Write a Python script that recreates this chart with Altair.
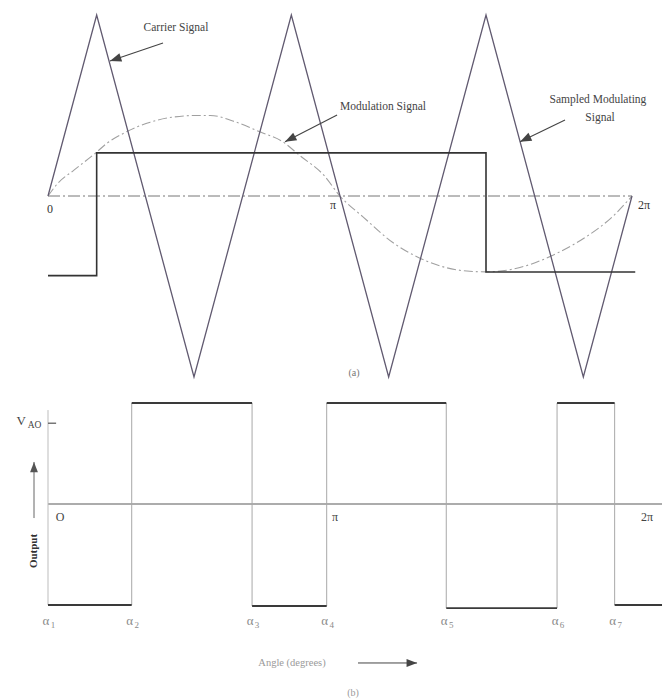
import math
import altair as alt
import pandas as pd

# ---------------- panel (a): carrier, modulating wave, sampled wave ----------------
carrier_deg = [0, 30, 90, 150, 210, 270, 330, 360]
carrier_val = [0, 1, -1, 1, -1, 1, -1, 0]

mod_deg = [0, 6, 16, 29, 36, 48, 63, 77, 92, 100, 116, 131, 145, 155, 170, 180,
           194, 213, 229, 246, 260, 270, 283, 297, 314, 332, 348, 360]
mod_val = [0.0, 0.07, 0.143, 0.235, 0.289, 0.353, 0.408, 0.436, 0.445, 0.445, 0.408,
           0.353, 0.298, 0.225, 0.115, 0.0, -0.114, -0.26, -0.342, -0.397, -0.416,
           -0.419, -0.41, -0.379, -0.315, -0.224, -0.114, 0.0]

sampled_deg = [0, 30, 270, 362]
sampled_val = [-0.44, 0.238, -0.42, -0.42]

# ---------------- panel (b): PWM output ----------------
switch_deg = [0, 51.6, 125.8, 171.8, 245.5, 313.8, 349.3, 378.5]
output_level = [-1.0, 1.0, -1.01, 1.0, -1.03, 1.0, -1.0]
alpha_index = ["1", "2", "3", "4", "5", "6", "7"]
vao_level = 0.80

# ---------------- scales ----------------
W = 664
PX_DEG = 584 / 360
X_DOM = [-48 / PX_DEG, (W - 48) / PX_DEG]

TOP_H, TOP_ZERO, TOP_UNIT = 390, 196, 181
Y_TOP = [-(TOP_H - TOP_ZERO) / TOP_UNIT, TOP_ZERO / TOP_UNIT]
BOT_H, BOT_ZERO, BOT_UNIT = 310, 114, 101
Y_BOT = [-(BOT_H - BOT_ZERO) / BOT_UNIT, BOT_ZERO / BOT_UNIT]

FONT = "Liberation Serif"
HEAD = "M0,0L-0.38,1L0.38,1Z"


def xenc(field):
    return alt.X(f"{field}:Q", scale=alt.Scale(domain=X_DOM, nice=False, zero=False), axis=None)


def yenc(field, dom):
    return alt.Y(f"{field}:Q", scale=alt.Scale(domain=dom, nice=False, zero=False), axis=None)


def text_layer(rows, dom, color, size, **kw):
    df = pd.DataFrame(rows, columns=["x", "y", "t"])
    return alt.Chart(df).mark_text(font=FONT, fontSize=size, color=color,
                                   baseline="middle", align="center", **kw).encode(
        x=xenc("x"), y=yenc("y", dom), text="t:N")


def arrow(x1, y1, x2, y2, dom, unit, color="#444", width=1.1, size=520):
    dx = (x2 - x1) * PX_DEG
    dy = -(y2 - y1) * unit
    ang = math.degrees(math.atan2(dx, -dy)) % 360
    df = pd.DataFrame({"x": [x1], "y": [y1], "x2": [x2], "y2": [y2], "ang": [ang]})
    shaft = alt.Chart(df).mark_rule(color=color, strokeWidth=width).encode(
        x=xenc("x"), y=yenc("y", dom), x2="x2:Q", y2="y2:Q")
    head = alt.Chart(df).mark_point(shape=HEAD, filled=True, size=size, color=color,
                                    opacity=1, strokeWidth=0).encode(
        x=xenc("x2"), y=yenc("y2", dom), angle=alt.Angle("ang:Q", scale=None))
    return shaft + head


# ---------------- panel (a) layers ----------------
carrier = alt.Chart(pd.DataFrame({"deg": carrier_deg, "v": carrier_val})).mark_line(
    color="#615a70", strokeWidth=1.3).encode(x=xenc("deg"), y=yenc("v", Y_TOP))

modwave = alt.Chart(pd.DataFrame({"deg": mod_deg, "v": mod_val})).mark_line(
    color="#a0a0a0", strokeWidth=1.1, strokeDash=[9, 3, 2, 3], interpolate="monotone").encode(
    x=xenc("deg"), y=yenc("v", Y_TOP))

sampled = alt.Chart(pd.DataFrame({"deg": sampled_deg, "v": sampled_val})).mark_line(
    color="#333333", strokeWidth=1.6, interpolate="step-after").encode(
    x=xenc("deg"), y=yenc("v", Y_TOP))

axis_a = alt.Chart(pd.DataFrame({"x": [0], "x2": [360], "y": [0]})).mark_rule(
    color="#777777", strokeWidth=1, strokeDash=[12, 3, 2, 3]).encode(
    x=xenc("x"), x2="x2:Q", y=yenc("y", Y_TOP))

labels_a = text_layer([
    [78.9, 0.928, "Carrier Signal"],
    [206.5, 0.492, "Modulation Signal"],
    [339.0, 0.530, "Sampled Modulating"],
    [340.3, 0.431, "Signal"],
], Y_TOP, "#444444", 11.5)

ticks_a = text_layer([
    [1.2, -0.072, "0"],
    [175.7, -0.05, "π"],
    [367.4, -0.05, "2π"],
], Y_TOP, "#333333", 12)

cap_a = text_layer([[188.6, -0.978, "(a)"]], Y_TOP, "#777777", 10)

panel_a = alt.layer(
    axis_a, modwave, carrier, sampled, labels_a, ticks_a, cap_a,
    arrow(70.9, 0.845, 38.2, 0.746, Y_TOP, TOP_UNIT),
    arrow(178.2, 0.4475, 146.1, 0.30, Y_TOP, TOP_UNIT),
    arrow(318.7, 0.42, 291.0, 0.30, Y_TOP, TOP_UNIT),
).properties(width=W, height=TOP_H)

# ---------------- panel (b) layers ----------------
seg = pd.DataFrame({"x": switch_deg[:-1], "x2": switch_deg[1:], "y": output_level})
levels = alt.Chart(seg).mark_rule(color="#3a3a3a", strokeWidth=1.8).encode(
    x=xenc("x"), x2="x2:Q", y=yenc("y", Y_BOT))

edges = pd.DataFrame({"x": switch_deg[1:-1], "y": output_level[:-1], "y2": output_level[1:]})
verticals = alt.Chart(edges).mark_rule(color="#a8a8a8", strokeWidth=1).encode(
    x=xenc("x"), y=yenc("y", Y_BOT), y2="y2:Q")

zero_b = alt.Chart(pd.DataFrame({"x": [0], "x2": [switch_deg[-1]], "y": [0]})).mark_rule(
    color="#5a5a5a", strokeWidth=1.2).encode(x=xenc("x"), x2="x2:Q", y=yenc("y", Y_BOT))

yaxis_b = alt.Chart(pd.DataFrame({"x": [0], "y": [-1.0], "y2": [0.93]})).mark_rule(
    color="#bdbdbd", strokeWidth=1).encode(x=xenc("x"), y=yenc("y", Y_BOT), y2="y2:Q")

vao_tick = alt.Chart(pd.DataFrame({"x": [0], "x2": [5], "y": [vao_level]})).mark_rule(
    color="#555555", strokeWidth=1.2).encode(x=xenc("x"), x2="x2:Q", y=yenc("y", Y_BOT))

# switching-angle labels: alpha with a lowered index digit
alpha_df = pd.DataFrame({"x": switch_deg[:7], "y": [-1.158] * 7,
                         "a": ["α"] * 7, "i": alpha_index})
alpha_sym = alt.Chart(alpha_df).mark_text(font=FONT, fontSize=13, color="#8a8a8a",
                                          dx=-2).encode(
    x=xenc("x"), y=yenc("y", Y_BOT), text="a:N")
alpha_sub = alt.Chart(alpha_df).mark_text(font=FONT, fontSize=9, color="#8a8a8a",
                                          dx=5, dy=4).encode(
    x=xenc("x"), y=yenc("y", Y_BOT), text="i:N")

ticks_b = text_layer([
    [7.4, -0.129, "O"],
    [176.9, -0.129, "π"],
    [369.3, -0.129, "2π"],
], Y_BOT, "#444444", 12)

v_lbl = text_layer([[-16.5, 0.822, "V"]], Y_BOT, "#444444", 13)
ao_lbl = text_layer([[-8.3, 0.78, "AO"]], Y_BOT, "#444444", 9.5)
out_lbl = text_layer([[-8.63, -0.465, "Output"]], Y_BOT, "#333333", 11, angle=270,
                     fontWeight="bold")
angle_lbl = text_layer([[150.4, -1.574, "Angle (degrees)"]], Y_BOT, "#9a9a9a", 10.5)
cap_b = text_layer([[188.0, -1.871, "(b)"]], Y_BOT, "#9a9a9a", 10)

panel_b = alt.layer(
    zero_b, yaxis_b, vao_tick, verticals, levels, alpha_sym, alpha_sub, ticks_b,
    v_lbl, ao_lbl, out_lbl, angle_lbl, cap_b,
    arrow(-8.63, -0.139, -8.63, 0.416, Y_BOT, BOT_UNIT, color="#555555", width=0.9, size=420),
    arrow(191.1, -1.574, 227.5, -1.574, Y_BOT, BOT_UNIT, color="#444444", width=1.0, size=440),
).properties(width=W, height=BOT_H)

chart = alt.vconcat(panel_a, panel_b, spacing=0).properties(
    padding=0, background="white"
).configure_view(stroke=None)

chart.save("out.html", embed_options={"renderer": "svg", "actions": False})
